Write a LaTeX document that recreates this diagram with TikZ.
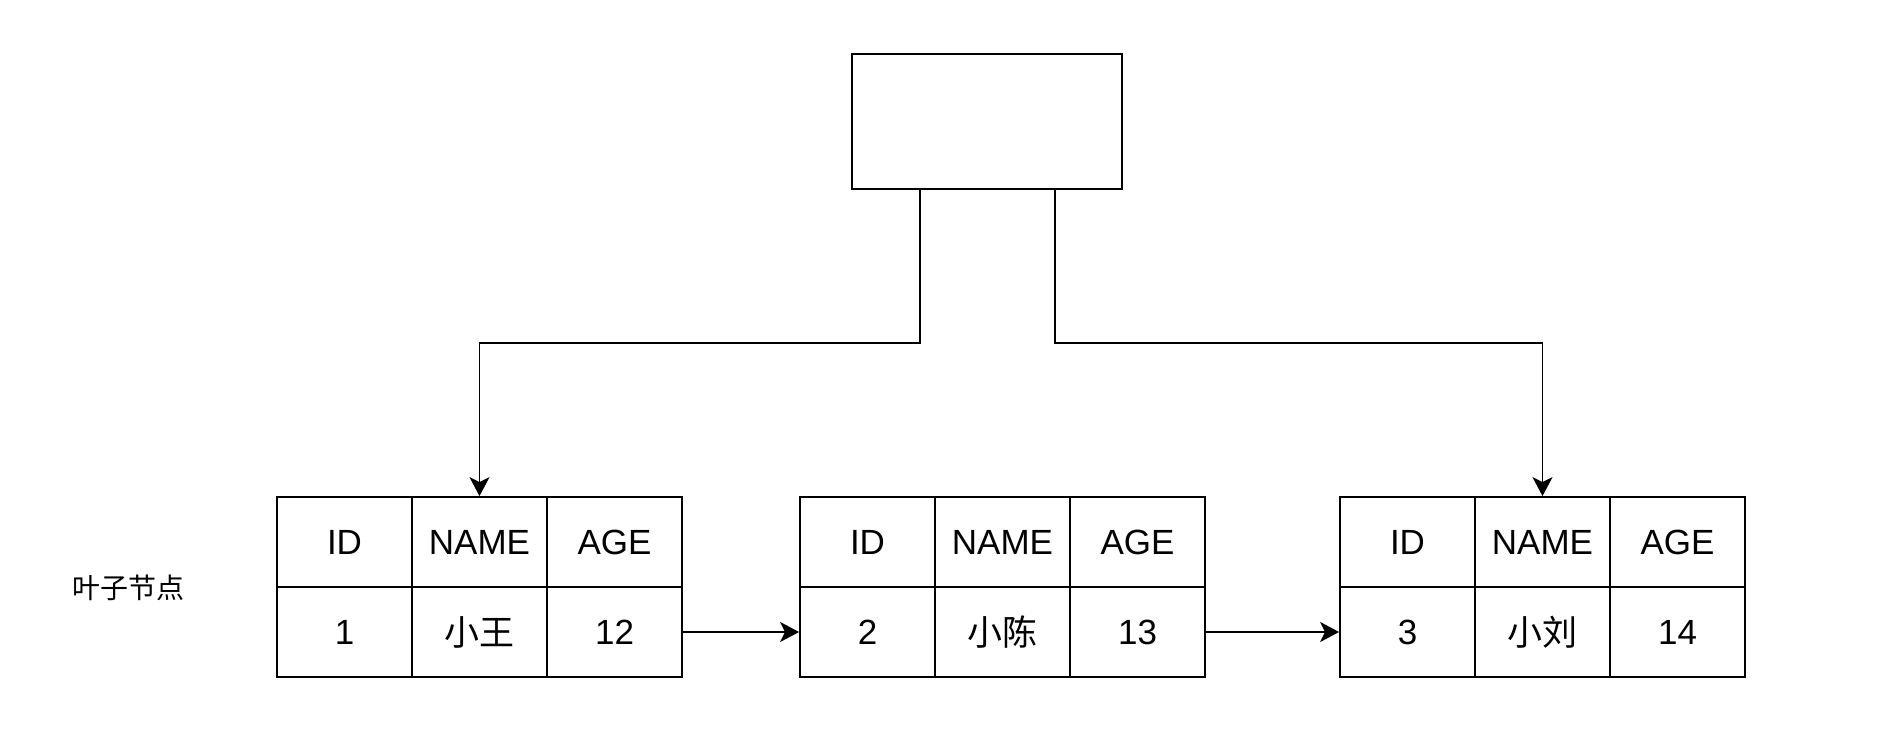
\documentclass[tikz,border=0pt]{standalone}
\usepackage{fontspec}
\setmainfont{Liberation Sans}
\newfontfamily\cjk{Noto Sans CJK SC}
\usetikzlibrary{arrows.meta,calc}
\begin{document}
\begin{tikzpicture}[x=1pt,y=-1pt,
  line width=1.8pt,
  cell/.style={draw,line width=1.8pt,minimum width=135pt,minimum height=90pt,inner sep=0pt,
    font=\fontsize{35}{42}\selectfont},
  arr/.style={-{Stealth[length=19pt,width=20pt,inset=5pt]},line width=1.8pt},
  rootbox/.style={draw,line width=1.8pt,minimum width=270pt,minimum height=135pt,inner sep=0pt}]
\useasboundingbox (0,0) rectangle (1896,736);
\fill[white] (0,0) rectangle (1896,736);
\node[rootbox] (root) at (987,121.5) {};
% table 1
\node[cell] (t1a) at (344.5,542) {ID};
\node[cell] (t1b) at (479.5,542) {NAME};
\node[cell] (t1c) at (614.5,542) {AGE};
\node[cell] (t1d) at (344.5,632) {1};
\node[cell] (t1e) at (479.5,632) {\cjk 小王};
\node[cell] (t1f) at (614.5,632) {12};
% table 2
\node[cell] (t2a) at (867.5,542) {ID};
\node[cell] (t2b) at (1002.5,542) {NAME};
\node[cell] (t2c) at (1137.5,542) {AGE};
\node[cell] (t2d) at (867.5,632) {2};
\node[cell] (t2e) at (1002.5,632) {\cjk 小陈};
\node[cell] (t2f) at (1137.5,632) {13};
% table 3
\node[cell] (t3a) at (1407.5,542) {ID};
\node[cell] (t3b) at (1542.5,542) {NAME};
\node[cell] (t3c) at (1677.5,542) {AGE};
\node[cell] (t3d) at (1407.5,632) {3};
\node[cell] (t3e) at (1542.5,632) {\cjk 小刘};
\node[cell] (t3f) at (1677.5,632) {14};
% label
\node[font=\cjk\fontsize{28}{34}\selectfont] (lbl) at (128,588) {叶子节点};
% connectors
\coordinate (lx) at (920,0);
\coordinate (rx) at (1055,0);
\coordinate (jy) at (0,343);
\draw[arr] (root.south -| lx) -- (jy -| lx) -- (jy -| t1b) -- (t1b.north);
\draw[arr] (root.south -| rx) -- (jy -| rx) -- (jy -| t3b) -- (t3b.north);
\draw[arr] (t1f.east) -- (t2d.west);
\draw[arr] (t2f.east) -- (t3d.west);
\end{tikzpicture}
\end{document}
